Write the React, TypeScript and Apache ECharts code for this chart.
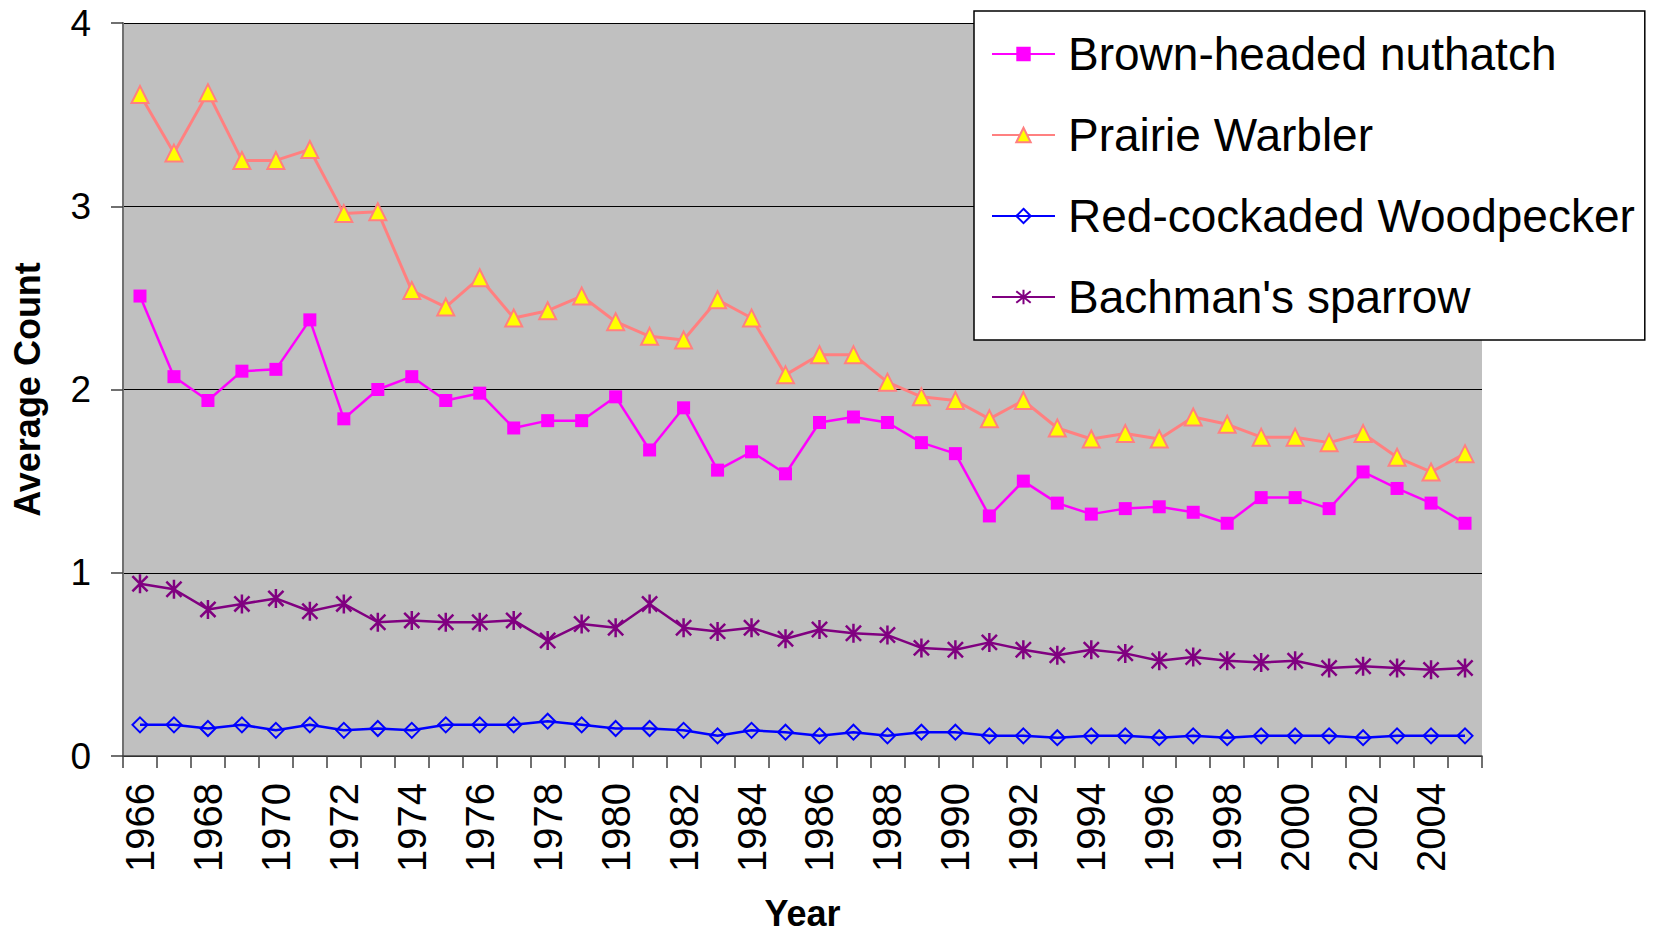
import React, { useEffect, useRef } from "react";
import * as echarts from "echarts";

const years = [
  "1966","1967","1968","1969","1970","1971","1972","1973","1974","1975",
  "1976","1977","1978","1979","1980","1981","1982","1983","1984","1985",
  "1986","1987","1988","1989","1990","1991","1992","1993","1994","1995",
  "1996","1997","1998","1999","2000","2001","2002","2003","2004","2005",
];

const nuthatch = [
  2.51, 2.07, 1.94, 2.10, 2.11, 2.38, 1.84, 2.00, 2.07, 1.94,
  1.98, 1.79, 1.83, 1.83, 1.96, 1.67, 1.90, 1.56, 1.66, 1.54,
  1.82, 1.85, 1.82, 1.71, 1.65, 1.31, 1.50, 1.38, 1.32, 1.35,
  1.36, 1.33, 1.27, 1.41, 1.41, 1.35, 1.55, 1.46, 1.38, 1.27,
];

const prairieWarbler = [
  3.61, 3.29, 3.62, 3.25, 3.25, 3.31, 2.96, 2.97, 2.54, 2.45,
  2.61, 2.39, 2.43, 2.51, 2.37, 2.29, 2.27, 2.49, 2.39, 2.08,
  2.19, 2.19, 2.04, 1.96, 1.94, 1.84, 1.94, 1.79, 1.73, 1.76,
  1.73, 1.85, 1.81, 1.74, 1.74, 1.71, 1.76, 1.63, 1.55, 1.65,
];

const woodpecker = [
  0.17, 0.17, 0.15, 0.17, 0.14, 0.17, 0.14, 0.15, 0.14, 0.17,
  0.17, 0.17, 0.19, 0.17, 0.15, 0.15, 0.14, 0.11, 0.14, 0.13,
  0.11, 0.13, 0.11, 0.13, 0.13, 0.11, 0.11, 0.10, 0.11, 0.11,
  0.10, 0.11, 0.10, 0.11, 0.11, 0.11, 0.10, 0.11, 0.11, 0.11,
];

const bachman = [
  0.94, 0.91, 0.80, 0.83, 0.86, 0.79, 0.83, 0.73, 0.74, 0.73,
  0.73, 0.74, 0.63, 0.72, 0.70, 0.83, 0.70, 0.68, 0.70, 0.64,
  0.69, 0.67, 0.66, 0.59, 0.58, 0.62, 0.58, 0.55, 0.58, 0.56,
  0.52, 0.54, 0.52, 0.51, 0.52, 0.48, 0.49, 0.48, 0.47, 0.48,
];

const seriesNames = [
  "Brown-headed nuthatch",
  "Prairie Warbler",
  "Red-cockaded Woodpecker",
  "Bachman's sparrow",
];

const yTicks = [0, 1, 2, 3, 4];

const FONT = "'Liberation Sans', Arial, Helvetica, sans-serif";
const ASTERISK = "path://M5,0L5,10M1,1L9,9M1,9L9,1";

export default function App() {
  const ref = useRef<HTMLDivElement>(null);

  useEffect(() => {
    if (!ref.current) return;
    const chart = echarts.init(ref.current, null, { renderer: "svg" });
    chart.setOption({
      animation: false,
      backgroundColor: "#ffffff",
      textStyle: { fontFamily: FONT },
      grid: {
        left: 123,
        top: 23,
        right: 174,
        bottom: 168,
        show: true,
        backgroundColor: "#C0C0C0",
        borderWidth: 0,
      },
      legend: {
        orient: "vertical",
        left: 974,
        top: 11,
        padding: [17, 10, 17, 17],
        backgroundColor: "#ffffff",
        borderColor: "#000000",
        borderWidth: 1.5,
        itemWidth: 63,
        itemHeight: 18,
        itemGap: 29,
        data: seriesNames,
        textStyle: {
          fontFamily: FONT,
          fontSize: 46,
          color: "#000000",
          lineHeight: 52,
          padding: [0, 0, 0, 8],
        },
      },
      xAxis: {
        type: "category",
        data: years,
        boundaryGap: true,
        name: "Year",
        nameLocation: "middle",
        nameGap: 139,
        nameTextStyle: {
          fontFamily: FONT,
          fontSize: 36,
          fontWeight: "bold",
          color: "#000000",
        },
        axisLine: { show: true, lineStyle: { color: "#404040", width: 1.5 } },
        axisTick: {
          show: true,
          length: 12,
          interval: 0,
          alignWithLabel: false,
          lineStyle: { color: "#404040", width: 1.5 },
        },
        axisLabel: {
          rotate: 90,
          interval: 1,
          margin: 27,
          fontSize: 40,
          fontFamily: FONT,
          color: "#000000",
        },
        splitLine: { show: false },
      },
      yAxis: {
        type: "value",
        min: yTicks[0],
        max: yTicks[yTicks.length - 1],
        interval: 1,
        name: "Average Count",
        nameLocation: "middle",
        nameGap: 78,
        nameTextStyle: {
          fontFamily: FONT,
          fontSize: 36,
          fontWeight: "bold",
          color: "#000000",
        },
        axisLine: { show: true, lineStyle: { color: "#707070", width: 2 } },
        axisTick: {
          show: true,
          length: 12,
          lineStyle: { color: "#404040", width: 1.5 },
        },
        axisLabel: {
          margin: 32,
          fontSize: 37,
          fontFamily: FONT,
          color: "#000000",
        },
        splitLine: { show: true, lineStyle: { color: "#000000", width: 1.2 } },
      },
      series: [
        {
          name: seriesNames[0],
          type: "line",
          data: nuthatch,
          symbol: "rect",
          symbolSize: 13,
          itemStyle: { color: "#FF00FF" },
          lineStyle: { color: "#FF00FF", width: 2.5 },
        },
        {
          name: seriesNames[1],
          type: "line",
          data: prairieWarbler,
          symbol: "triangle",
          symbolSize: 17,
          itemStyle: { color: "#FFFF00", borderColor: "#FF8080", borderWidth: 2 },
          lineStyle: { color: "#FF8080", width: 3 },
        },
        {
          name: seriesNames[2],
          type: "line",
          data: woodpecker,
          symbol: "diamond",
          symbolSize: 15,
          itemStyle: { color: "rgba(0,0,0,0)", borderColor: "#0000FF", borderWidth: 2 },
          lineStyle: { color: "#0000FF", width: 2.5 },
        },
        {
          name: seriesNames[3],
          type: "line",
          data: bachman,
          symbol: ASTERISK,
          symbolSize: 19,
          symbolKeepAspect: true,
          itemStyle: { color: "#800080", borderColor: "#800080", borderWidth: 2.5 },
          lineStyle: { color: "#800080", width: 2.5 },
        },
      ],
    });
    return () => chart.dispose();
  }, []);

  return (
    <div
      ref={ref}
      style={{
        position: "fixed",
        left: 0,
        top: 0,
        width: 1656,
        height: 936,
        background: "#ffffff",
      }}
    />
  );
}
